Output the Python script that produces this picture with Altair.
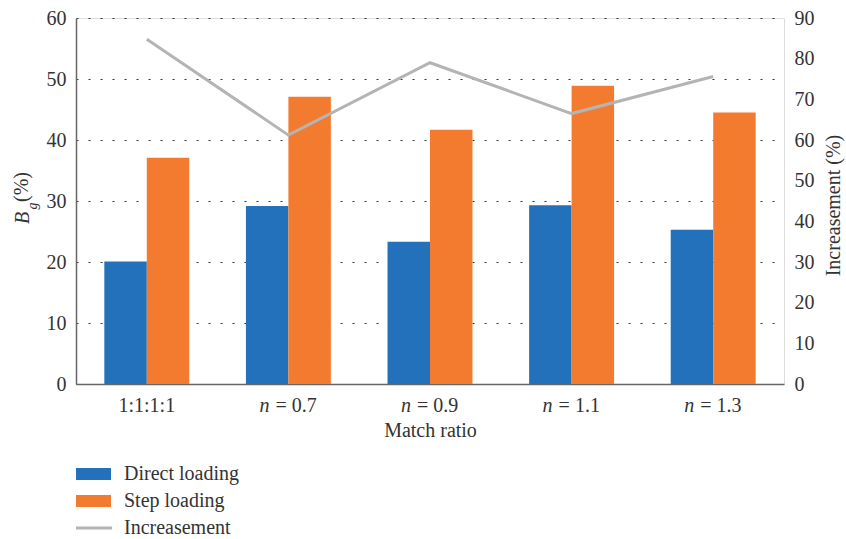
import altair as alt
import pandas as pd

categories = ["1:1:1:1", "n = 0.7", "n = 0.9", "n = 1.1", "n = 1.3"]
direct_loading = [20.1, 29.2, 23.3, 29.3, 25.3]
step_loading = [37.1, 47.1, 41.7, 48.9, 44.5]
increasement = [84.8, 61.2, 79.0, 66.5, 75.6]
series_names = ["Direct loading", "Step loading"]
series_colors = ["#2271BA", "#F37B2F"]
line_name = "Increasement"
line_color = "#B4B4B4"
left_ticks = [0, 10, 20, 30, 40, 50, 60]
right_ticks = [0, 10, 20, 30, 40, 50, 60, 70, 80, 90]

W, H = 708, 366
FONT = "Liberation Serif"
TXT = "#333333"
FS = 20

bars_df = pd.DataFrame({
    "cat": categories * 2,
    "series": [series_names[0]] * len(categories) + [series_names[1]] * len(categories),
    "value": direct_loading + step_loading,
})
line_df = pd.DataFrame({"cat": categories, "inc": increasement})
var_df = pd.DataFrame({
    "cat": [c for c in categories if " = " in c],
    "var": [c.split(" = ")[0] for c in categories if " = " in c],
    "rest": ["= " + c.split(" = ")[1] for c in categories if " = " in c],
})
plain_df = pd.DataFrame({"cat": [c for c in categories if " = " not in c]})
one = pd.DataFrame({"k": [0]})

xenc = alt.X(
    "cat:N", sort=categories,
    scale=alt.Scale(domain=categories, paddingInner=0.4, paddingOuter=0.2),
    axis=alt.Axis(labels=False, ticks=False, domain=True, domainColor="#666666",
                  domainWidth=1.5, title="Match ratio", titleFont=FONT,
                  titleFontSize=FS, titleFontWeight="normal", titleColor=TXT,
                  titlePadding=36),
)

bars = alt.Chart(bars_df).mark_bar().encode(
    x=xenc,
    xOffset=alt.XOffset("series:N", sort=series_names,
                        scale=alt.Scale(domain=series_names, paddingInner=0, paddingOuter=0)),
    y=alt.Y("value:Q", scale=alt.Scale(domain=[0, 60], nice=False),
            axis=alt.Axis(values=left_ticks, title=None, grid=True, gridDash=[2, 10],
                          gridColor="#333333", gridWidth=1.2, ticks=False,
                          domain=True, domainColor="#666666", domainWidth=1.5,
                          labelFont=FONT, labelFontSize=FS, labelColor=TXT,
                          labelPadding=10)),
    color=alt.Color("series:N", scale=alt.Scale(domain=series_names, range=series_colors),
                    legend=None),
)

line = alt.Chart(line_df).mark_line(color=line_color, strokeWidth=3).encode(
    x=alt.X("cat:N", sort=categories),
    y=alt.Y("inc:Q", scale=alt.Scale(domain=[0, 90], nice=False),
            axis=alt.Axis(orient="right", values=right_ticks, grid=False, domain=False,
                          ticks=False, labelFont=FONT, labelFontSize=FS, labelColor=TXT,
                          labelPadding=10, title="Increasement (%)", titleFont=FONT,
                          titleFontSize=FS, titleFontWeight="normal", titleColor=TXT,
                          titleAngle=270, titleX=49, titleY=187, titleAlign="center",
                          titleBaseline="middle")),
)

lab_y = H + 22
plain_lab = alt.Chart(plain_df).mark_text(font=FONT, fontSize=FS, color=TXT,
                                          baseline="middle", align="center").encode(
    x=alt.X("cat:N", sort=categories), y=alt.value(lab_y), text="cat:N")
var_lab = alt.Chart(var_df).mark_text(font=FONT, fontSize=FS, color=TXT, fontStyle="italic",
                                      baseline="middle", align="left", dx=-29).encode(
    x=alt.X("cat:N", sort=categories), y=alt.value(lab_y), text="var:N")
rest_lab = alt.Chart(var_df).mark_text(font=FONT, fontSize=FS, color=TXT,
                                       baseline="middle", align="left", dx=-13).encode(
    x=alt.X("cat:N", sort=categories), y=alt.value(lab_y), text="rest:N")

# left axis title: italic B with subscript g, then (%)
tB = alt.Chart(one).mark_text(text="B", font=FONT, fontSize=FS, fontStyle="italic", color=TXT,
                              angle=270, align="center", baseline="middle").encode(
    x=alt.value(-53), y=alt.value(200))
tg = alt.Chart(one).mark_text(text="g", font=FONT, fontSize=14, fontStyle="italic", color=TXT,
                              angle=270, align="center", baseline="middle").encode(
    x=alt.value(-43), y=alt.value(188))
tp = alt.Chart(one).mark_text(text="(%)", font=FONT, fontSize=FS, color=TXT,
                              angle=270, align="center", baseline="middle").encode(
    x=alt.value(-54), y=alt.value(169))

# legend
leg = []
leg_y = [456, 483]
for name, col, yy in zip(series_names, series_colors, leg_y):
    leg.append(alt.Chart(one).mark_rect(color=col).encode(
        x=alt.value(0), x2=alt.value(35), y=alt.value(yy - 6), y2=alt.value(yy + 6)))
    leg.append(alt.Chart(one).mark_text(text=name, font=FONT, fontSize=FS, color=TXT,
                                        align="left", baseline="middle").encode(
        x=alt.value(48), y=alt.value(yy)))
leg.append(alt.Chart(one).mark_rule(color=line_color, strokeWidth=3).encode(
    x=alt.value(0), x2=alt.value(36), y=alt.value(510)))
leg.append(alt.Chart(one).mark_text(text=line_name, font=FONT, fontSize=FS, color=TXT,
                                    align="left", baseline="middle").encode(
    x=alt.value(48), y=alt.value(510)))

chart = alt.layer(bars, line, plain_lab, var_lab, rest_lab, tB, tg, tp, *leg).resolve_scale(
    y="independent"
).properties(
    width=W, height=H,
    autosize=alt.AutoSizeParams(type="none"),
    padding={"left": 76, "top": 18, "right": 846 - 76 - W, "bottom": 539 - 18 - H},
).configure_view(stroke=None).configure(background="white")

chart.save("out.html", embed_options={"renderer": "svg", "actions": False})
